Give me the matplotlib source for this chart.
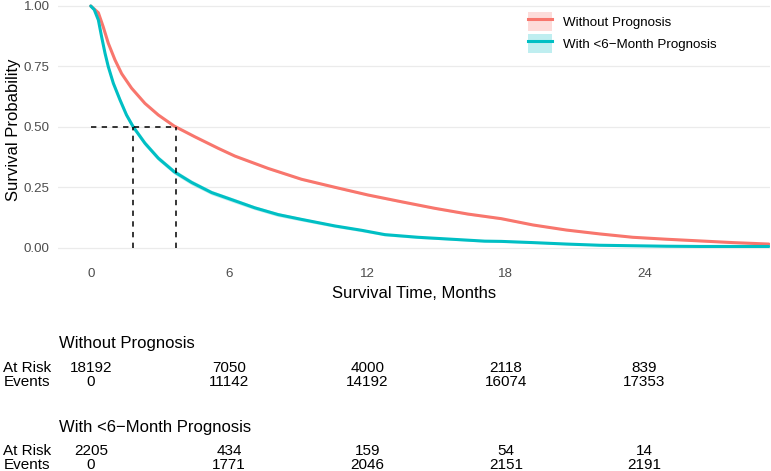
import matplotlib.pyplot as plt
from matplotlib.lines import Line2D
from matplotlib.patches import Patch
from matplotlib.transforms import blended_transform_factory

plt.rcParams['font.family'] = ['Liberation Sans', 'DejaVu Sans']

# kaplan-meier curves (months, survival probability)
time_without = [0, 0.33, 0.54, 0.76, 1.05, 1.34, 1.77, 2.35, 2.93, 3.62, 4.51, 5.53,
                6.25, 7.69, 9.14, 10.58, 12.02, 13.47, 14.91, 16.36, 17.8, 19.17,
                20.62, 22.06, 23.5, 24.95, 26.4, 27.84, 29.4]
surv_without = [1.0, 0.972, 0.914, 0.846, 0.777, 0.72, 0.66, 0.597, 0.549, 0.503,
                0.459, 0.411, 0.379, 0.328, 0.283, 0.25, 0.218, 0.19, 0.163, 0.139,
                0.12, 0.094, 0.073, 0.057, 0.043, 0.035, 0.028, 0.021, 0.015]
ci_without = [0, 0.002, 0.003, 0.003, 0.003, 0.003, 0.004, 0.004, 0.004, 0.004,
              0.004, 0.004, 0.004, 0.004, 0.004, 0.004, 0.004, 0.004, 0.004, 0.004,
              0.004, 0.003, 0.003, 0.003, 0.003, 0.003, 0.003, 0.003, 0.003]

time_with = [0, 0.15, 0.33, 0.47, 0.62, 0.76, 0.98, 1.27, 1.55, 1.84, 2.35, 2.93,
             3.62, 4.37, 5.24, 6.25, 7.11, 8.12, 9.14, 10.58, 11.74, 12.75, 14.19,
             15.64, 17.08, 17.8, 19.17, 20.62, 22.06, 23.5, 24.95, 26.4, 29.4]
surv_with = [1.0, 0.985, 0.942, 0.873, 0.804, 0.749, 0.68, 0.611, 0.549, 0.50,
             0.432, 0.37, 0.314, 0.27, 0.228, 0.194, 0.165, 0.137, 0.117, 0.09,
             0.072, 0.054, 0.043, 0.035, 0.027, 0.026, 0.021, 0.015, 0.01, 0.008,
             0.006, 0.005, 0.005]
ci_with = [0, 0.004, 0.006, 0.008, 0.009, 0.009, 0.01, 0.01, 0.011, 0.011, 0.011,
           0.01, 0.01, 0.01, 0.009, 0.009, 0.008, 0.008, 0.007, 0.006, 0.006, 0.005,
           0.005, 0.004, 0.004, 0.004, 0.003, 0.003, 0.002, 0.002, 0.002, 0.002,
           0.002]

median_without = 3.68
median_with = 1.84

groups = ['Without Prognosis', 'With <6\u2212Month Prognosis']
colors = ['#F8766D', '#00BFC4']

# numbers at risk table
table_times = [0, 6, 12, 18, 24]
at_risk_without = [18192, 7050, 4000, 2118, 839]
events_without = [0, 11142, 14192, 16074, 17353]
at_risk_with = [2205, 434, 159, 54, 14]
events_with = [0, 1771, 2046, 2151, 2191]

W, H = 771, 471
fig = plt.figure(figsize=(W / 100, H / 100), dpi=100)
ax = fig.add_axes([58 / W, 1 - 260 / H, 712 / W, 260 / H])

for t, s, ci, c, lab in [(time_without, surv_without, ci_without, colors[0], groups[0]),
                         (time_with, surv_with, ci_with, colors[1], groups[1])]:
    lo = [a - b for a, b in zip(s, ci)]
    hi = [a + b for a, b in zip(s, ci)]
    ax.fill_between(t, lo, hi, color=c, alpha=0.25, linewidth=0)
    ax.plot(t, s, color=c, linewidth=2.2, label=lab, solid_capstyle='round',
            solid_joinstyle='round')

# median lines
dash = (0, (3.5, 3.5))
ax.plot([0, max(median_without, median_with)], [0.5, 0.5], color='black', lw=1.1, ls=dash)
ax.plot([median_with, median_with], [0, 0.5], color='black', lw=1.1, ls=dash)
ax.plot([median_without, median_without], [0, 0.5], color='black', lw=1.1, ls=dash)

ax.set_xlim(-1.42, 29.45)
ax.set_ylim(-0.051, 1.0248)
ax.set_xticks(table_times)
ax.set_yticks([0, 0.25, 0.5, 0.75, 1.0])
ax.set_yticklabels(['0.00', '0.25', '0.50', '0.75', '1.00'])
ax.tick_params(length=0, labelsize=9.6, labelcolor='#4D4D4D')
ax.tick_params(axis='x', pad=6)
ax.tick_params(axis='y', pad=6)
ax.grid(axis='y', color='#EBEBEB', linewidth=0.9)
ax.set_axisbelow(True)
for sp in ax.spines.values():
    sp.set_visible(False)
ax.set_xlabel('Survival Time, Months', fontsize=12, labelpad=4)
ax.set_ylabel('Survival Probability', fontsize=12, labelpad=2)

handles = [(Patch(facecolor=c, alpha=0.25, linewidth=0), Line2D([], [], color=c, lw=2.2))
           for c in colors]
ax.legend(handles, groups, loc='upper left', bbox_to_anchor=(0.6605, 0.955),
          frameon=False, fontsize=9.6, handlelength=1.755, handleheight=1.875,
          labelspacing=0.2, handletextpad=0.87, borderpad=0, borderaxespad=0)

# risk table below the plot, columns follow the x axis
tr = blended_transform_factory(ax.transData, fig.transFigure)
x_left = 59.3 / W
x_lab = 50.7 / W


def fy(px):
    return 1 - px / H


for title, risk, ev, y0 in [(groups[0], at_risk_without, events_without, 348.3),
                            (groups[1], at_risk_with, events_with, 431.7)]:
    fig.text(x_left, fy(y0), title, fontsize=12, va='baseline', ha='left')
    fig.text(x_lab, fy(y0 + 23.4), 'At Risk', fontsize=11, va='baseline', ha='right')
    fig.text(x_lab, fy(y0 + 37.7), 'Events', fontsize=11, va='baseline', ha='right')
    for t, r, e in zip(table_times, risk, ev):
        fig.text(t, fy(y0 + 23.4), str(r), fontsize=11, va='baseline', ha='center', transform=tr)
        fig.text(t, fy(y0 + 37.7), str(e), fontsize=11, va='baseline', ha='center', transform=tr)

fig.savefig('out.png', dpi=100)
